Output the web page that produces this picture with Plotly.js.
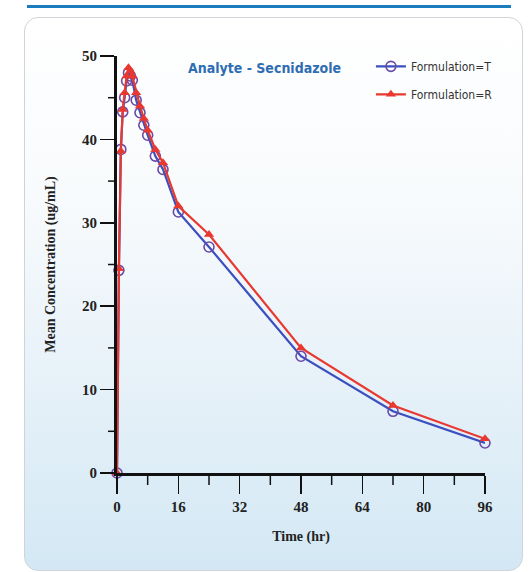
<!DOCTYPE html>
<html>
<head>
<meta charset="utf-8">
<script src="https://cdn.plot.ly/plotly-3.0.1.min.js"></script>
<style>
  html, body { margin:0; padding:0; background:#ffffff; width:530px; height:572px; overflow:hidden; }
  #rule { position:absolute; left:27px; top:5px; width:484px; height:3px; background:#1b7dbf; }
  #panel { position:absolute; left:24px; top:17px; width:497px; height:552px;
           border:1px solid #d0d4d8; border-radius:14px;
           background: linear-gradient(to bottom, #ffffff 0%, #f7fafc 35%, #e4f0f8 70%, #d3e8f4 100%); }
  #chart { position:absolute; left:0; top:0; width:530px; height:572px; }
</style>
</head>
<body>
<div id="rule"></div>
<div id="panel"></div>
<div id="chart"></div>
<script>
// Sampling times (hr)
const timeHr = [0, 0.5, 1, 1.5, 2, 2.5, 3, 3.5, 4, 5, 6, 7, 8, 10, 12, 16, 24, 48, 72, 96];
// Mean concentration (ug/mL), Formulation T (test)
const concT = [0, 24.3, 38.8, 43.3, 45.0, 47.0, 48.0, 47.6, 47.1, 44.7, 43.2, 41.7, 40.5, 38.0, 36.4, 31.3, 27.1, 14.0, 7.4, 3.6];
// Mean concentration (ug/mL), Formulation R (reference)
const concR = [0, 24.5, 38.6, 43.6, 45.6, 47.6, 48.6, 48.2, 47.6, 45.6, 44.0, 42.5, 41.1, 38.8, 37.2, 32.0, 28.6, 15.0, 8.1, 4.1];
const xTicks = [0, 16, 32, 48, 64, 80, 96];
const xMinorTicks = [8, 24, 40, 56, 72, 88];
const yTicks = [0, 10, 20, 30, 40, 50];
const yMinorTicks = [5, 15, 25, 35, 45];
const seriesNames = ['Formulation=T', 'Formulation=R'];

const serif = 'Liberation Serif, Times New Roman, serif';
const narrow = 'Liberation Sans Narrow, Arial Narrow, DejaVu Sans Condensed, sans-serif';

const W = 530, H = 572;
const M = { l: 117, r: 45, t: 56, b: 99 };
const plotW = W - M.l - M.r, plotH = H - M.t - M.b;

const traceR = {
  x: timeHr, y: concR, name: seriesNames[1], type: 'scatter', mode: 'lines+markers',
  line: { color: '#e8382f', width: 2.2 },
  marker: { symbol: 'triangle-up', size: 9, color: '#e8382f' },
  cliponaxis: false, legendgroup: 'r'
};
const traceT = {
  x: timeHr, y: concT, name: seriesNames[0], type: 'scatter', mode: 'lines+markers',
  line: { color: '#3c4fbf', width: 2.2 },
  marker: { symbol: 'circle-open', size: 10, color: '#6a4aa6', line: { width: 1.6, color: '#6a4aa6' } },
  cliponaxis: false, legendgroup: 't'
};

// minor tick marks (outside) built from the minor tick arrays
const minorShapes = [];
xMinorTicks.forEach(v => minorShapes.push({
  type: 'line', xref: 'x', yref: 'paper', x0: v, x1: v, y0: -1.5 / plotH, y1: -12 / plotH,
  line: { color: '#111', width: 1.5 }, layer: 'above'
}));
yMinorTicks.forEach(v => minorShapes.push({
  type: 'line', xref: 'paper', yref: 'y', x0: -1.5 / plotW, x1: -9 / plotW, y0: v, y1: v,
  line: { color: '#111', width: 1.5 }, layer: 'above'
}));

const layout = {
  width: W, height: H,
  margin: M,
  paper_bgcolor: 'rgba(0,0,0,0)', plot_bgcolor: 'rgba(0,0,0,0)',
  showlegend: true,
  legend: {
    x: 0.69, y: 1.01, xanchor: 'left', yanchor: 'top',
    bgcolor: 'rgba(0,0,0,0)', itemwidth: 30, tracegroupgap: 9,
    font: { family: narrow, size: 12, color: '#333333' }, traceorder: 'grouped'
  },
  xaxis: {
    range: [0, 96], tickvals: xTicks, ticktext: xTicks.map(String),
    showgrid: false, zeroline: false, showline: true, linewidth: 3, linecolor: '#111',
    ticks: 'outside', ticklen: 18, tickwidth: 1.5, tickcolor: '#111',
    tickfont: { family: serif, size: 15, color: '#222', weight: 'bold' },
    title: { text: '<b>Time (hr)</b>', font: { family: serif, size: 14, color: '#222' }, standoff: 18 },
    fixedrange: true
  },
  yaxis: {
    range: [0, 50], tickvals: yTicks, ticktext: yTicks.map(String),
    showgrid: false, zeroline: false, showline: true, linewidth: 3, linecolor: '#111',
    ticks: 'outside', ticklen: 14, tickwidth: 1.5, tickcolor: '#111',
    tickfont: { family: serif, size: 15, color: '#222', weight: 'bold' },
    title: { text: '<b>Mean Concentration (ug/mL)</b>', font: { family: serif, size: 14, color: '#222' }, standoff: 24 },
    fixedrange: true
  },
  shapes: minorShapes,
  annotations: [{
    text: '<b>Analyte - Secnidazole</b>', xref: 'paper', yref: 'paper',
    x: 0.4, y: 0.972, xanchor: 'center', yanchor: 'middle', showarrow: false,
    font: { family: narrow, size: 14, color: '#2f6db3' }
  }]
};

Plotly.newPlot('chart', [traceT, traceR], layout, { displayModeBar: false, staticPlot: true });
</script>
</body>
</html>
